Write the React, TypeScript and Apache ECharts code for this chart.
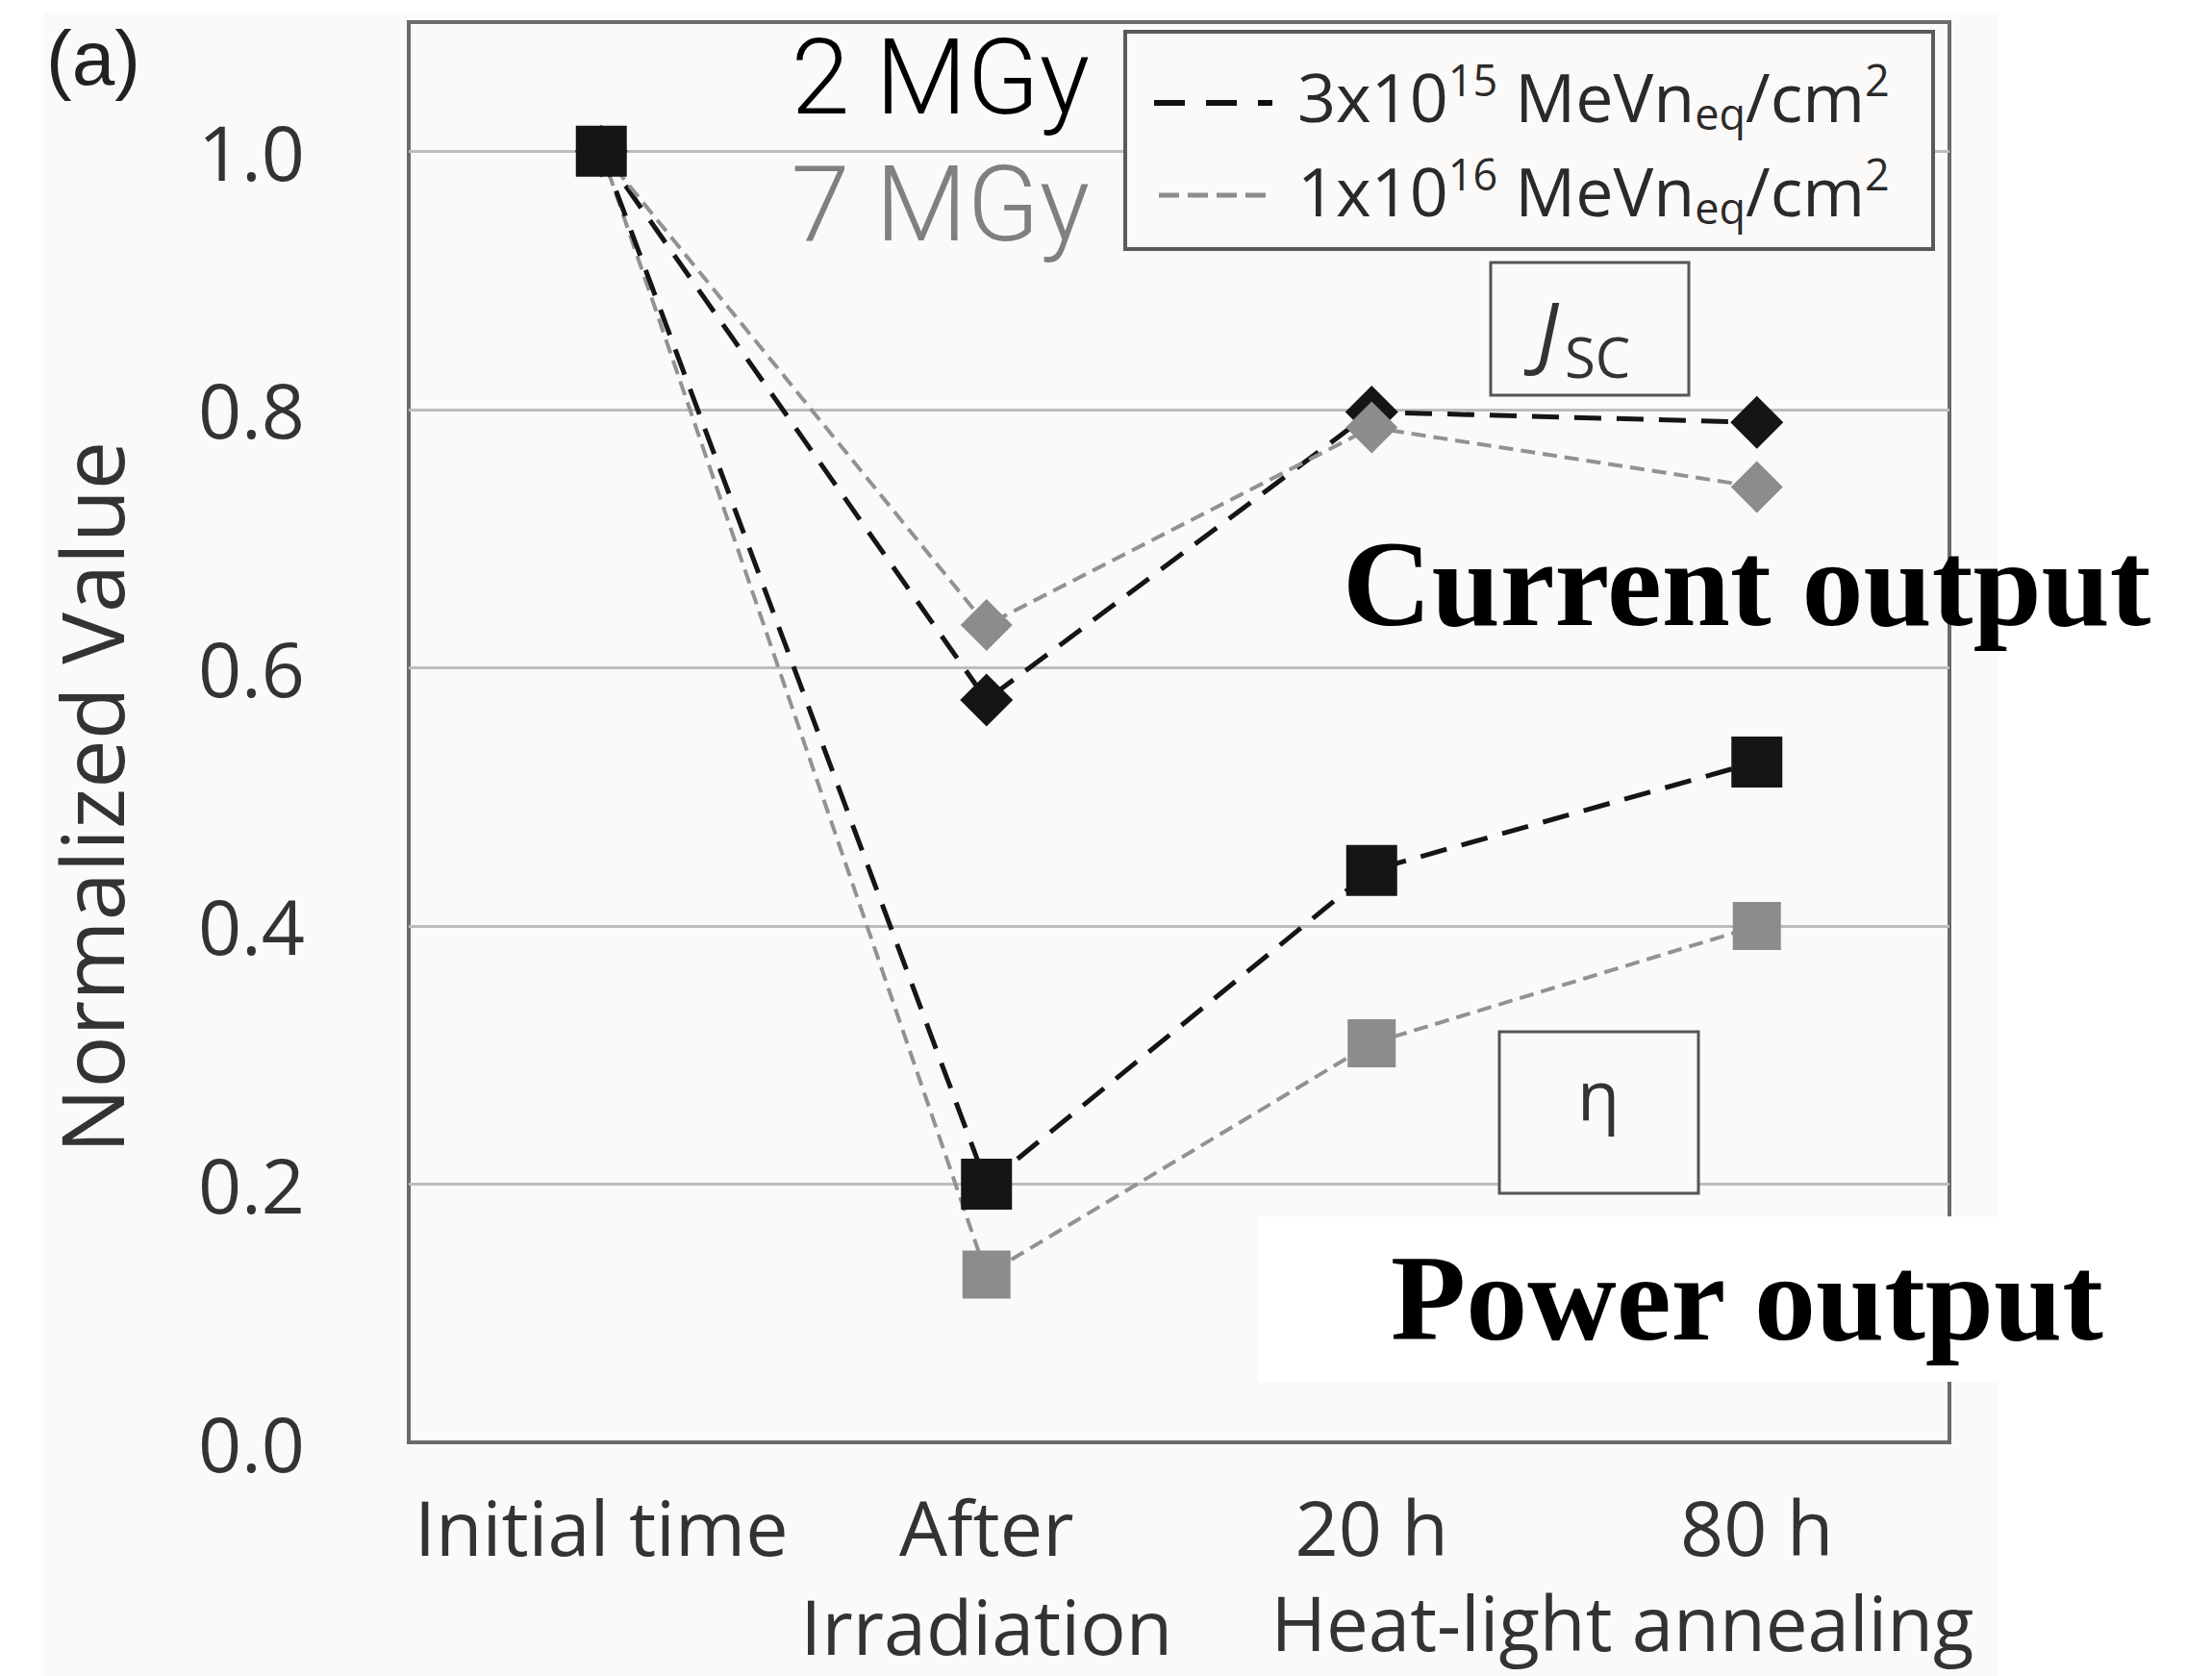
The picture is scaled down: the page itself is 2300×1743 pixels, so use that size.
import React, { useEffect, useRef } from "react";
import * as echarts from "echarts";

// ---- data ----
const categories = ["Initial time", "After\nIrradiation", "20 h", "80 h"];
const jsc3e15 = [1.0, 0.575, 0.798, 0.79];
const jsc1e16 = [1.0, 0.633, 0.786, 0.74];
const eta1e16 = [1.0, 0.13, 0.309, 0.4];
const eta3e15 = [1.0, 0.2, 0.443, 0.527];
const yMin = 0;
const yMax = 1.1;
const yStep = 0.2;
const legendLabels = [
  "3x10{sup|15} MeVn{sub|eq}/cm{sup|2}",
  "1x10{sup|16} MeVn{sub|eq}/cm{sup|2}",
];
const doseLabels = ["2 MGy", "7 MGy"];

const BLACK = "#151515";
const GRAY = "#8c8c8c";
const BG = "#fcf9f9";
const TXT = "#333333";
const SANS = "Open Sans";

const blackLine = { color: BLACK, width: 5, type: [28, 16] as number[] };
const grayLine = { color: "#929292", width: 4, type: [15, 8] as number[] };

function txt(x: number, y: number, text: string, extra: any = {}, z = 12, rotation = 0) {
  const align = extra.align || "left";
  return {
    type: "text",
    x,
    y,
    z,
    rotation,
    silent: true,
    style: {
      text,
      fill: extra.fill || TXT,
      fontSize: extra.fontSize || 70,
      fontFamily: extra.fontFamily || SANS,
      fontWeight: extra.fontWeight || "normal",
      fontStyle: extra.fontStyle || "normal",
      textAlign: align,
      align,
      textVerticalAlign: "middle",
      verticalAlign: "middle",
      ...(extra.rich ? { rich: extra.rich, lineHeight: extra.lineHeight } : {}),
    },
  };
}

const legendRich = {
  sup: { fontSize: 45, lineHeight: 45, verticalAlign: "top", fontFamily: SANS, fill: "#2a2a2a", color: "#2a2a2a" },
  sub: { fontSize: 45, lineHeight: 45, verticalAlign: "bottom", fontFamily: SANS, fill: "#2a2a2a", color: "#2a2a2a" },
};

const graphics: any[] = [
  // off-white figure background
  { type: "rect", z: -10, silent: true, shape: { x: 45, y: 13, width: 2033, height: 1730 }, style: { fill: BG } },
  // panel tag
  txt(97, 60, "(a)", { fontSize: 80, fontFamily: "Liberation Sans", fill: "#222", align: "center" }),
  // dose labels
  txt(1133, 80, doseLabels[0], { fontSize: 110, fontFamily: "Roboto", fontWeight: 300, fill: "#000", align: "right" }),
  txt(1133, 212, doseLabels[1], { fontSize: 110, fontFamily: "Roboto", fontWeight: 300, fill: "#808080", align: "right" }),
  // legend box
  { type: "rect", z: 6, silent: true, shape: { x: 1170, y: 33, width: 840, height: 226 }, style: { fill: BG, stroke: "#5a5a5a", lineWidth: 4 } },
  { type: "line", z: 7, silent: true, shape: { x1: 1200, y1: 107, x2: 1323, y2: 107 }, style: { stroke: "#111", lineWidth: 6, lineDash: [32, 22] } },
  { type: "line", z: 7, silent: true, shape: { x1: 1205, y1: 203, x2: 1318, y2: 203 }, style: { stroke: GRAY, lineWidth: 5, lineDash: [21, 9] } },
  txt(1349, 100, legendLabels[0], { fontSize: 70, fill: "#2a2a2a", rich: legendRich, lineHeight: 80 }, 8),
  txt(1349, 198, legendLabels[1], { fontSize: 70, fill: "#2a2a2a", rich: legendRich, lineHeight: 80 }, 8),
  // Jsc box
  { type: "rect", z: 6, silent: true, shape: { x: 1550, y: 273, width: 206, height: 138 }, style: { fill: BG, stroke: "#555", lineWidth: 3 } },
  txt(1598, 342, "J", { fontSize: 84, fontStyle: "italic" }, 8),
  txt(1627, 370, "SC", { fontSize: 58 }, 8),
  // eta box
  { type: "rect", z: 6, silent: true, shape: { x: 1559, y: 1073, width: 207, height: 168 }, style: { fill: BG, stroke: "#555", lineWidth: 3 } },
  txt(1662, 1137, "η", { fontSize: 72, align: "center" }, 8),
  // big annotations
  txt(1396, 607, "Current output", { fontSize: 128, fontFamily: "Liberation Serif", fontWeight: "bold", fill: "#000" }, 12),
  { type: "rect", z: 10, silent: true, shape: { x: 1308, y: 1265, width: 770, height: 172 }, style: { fill: "#ffffff" } },
  txt(1446, 1350, "Power output", { fontSize: 128, fontFamily: "Liberation Serif", fontWeight: "bold", fill: "#000" }, 12),
  // axis texts
  txt(1687, 1687, "Heat-light annealing", { fontSize: 78, align: "center" }, 12),
  txt(94, 829, "Normalized Value", { fontSize: 90, align: "center" }, 12, Math.PI / 2),
];

const option: any = {
  animation: false,
  backgroundColor: "transparent",
  grid: {
    left: 425,
    right: 273,
    top: 23,
    bottom: 243,
    outerBoundsMode: "none",
    containLabel: false,
    show: true,
    borderColor: "#6b6b6b",
    borderWidth: 4,
    backgroundColor: "transparent",
  },
  xAxis: {
    type: "category",
    data: categories,
    boundaryGap: true,
    axisLine: { show: false },
    axisTick: { show: false },
    splitLine: { show: false },
    axisLabel: {
      interval: 0,
      fontSize: 79,
      fontFamily: SANS,
      color: TXT,
      margin: 36,
      lineHeight: 103,
    },
  },
  yAxis: {
    type: "value",
    min: yMin,
    max: yMax,
    interval: yStep,
    axisLine: { show: false },
    axisTick: { show: false },
    axisLabel: {
      fontSize: 79,
      fontFamily: SANS,
      color: TXT,
      margin: 108,
      showMaxLabel: false,
      formatter: (v: number) => (Math.abs(v - yMax) < 1e-9 ? "" : v.toFixed(1)),
    },
    splitLine: {
      show: true,
      showMinLine: false,
      showMaxLine: false,
      lineStyle: { color: "#bdbdbd", width: 3 },
    },
  },
  series: [
    {
      name: "Jsc 3x10^15",
      type: "line",
      data: jsc3e15,
      symbol: "diamond",
      symbolSize: 55,
      itemStyle: { color: BLACK },
      lineStyle: blackLine,
      z: 2,
      emphasis: { disabled: true },
      silent: true,
    },
    {
      name: "Jsc 1x10^16",
      type: "line",
      data: jsc1e16,
      symbol: "diamond",
      symbolSize: 54,
      itemStyle: { color: GRAY },
      lineStyle: grayLine,
      z: 3,
      emphasis: { disabled: true },
      silent: true,
    },
    {
      name: "eta 1x10^16",
      type: "line",
      data: eta1e16,
      symbol: "rect",
      symbolSize: 50,
      itemStyle: { color: GRAY },
      lineStyle: grayLine,
      z: 4,
      emphasis: { disabled: true },
      silent: true,
    },
    {
      name: "eta 3x10^15",
      type: "line",
      data: eta3e15,
      symbol: "rect",
      symbolSize: 53,
      itemStyle: { color: BLACK },
      lineStyle: blackLine,
      z: 5,
      emphasis: { disabled: true },
      silent: true,
    },
  ],
  graphic: { elements: graphics },
};

export default function App() {
  const ref = useRef<HTMLDivElement>(null);
  useEffect(() => {
    document.body.style.margin = "0";
    document.body.style.background = "#ffffff";
    const chart = echarts.init(ref.current as HTMLDivElement, null, { renderer: "svg" });
    chart.setOption(option);
    return () => chart.dispose();
  }, []);
  return (
    <div
      ref={ref}
      style={{ position: "absolute", left: 0, top: 0, width: 2300, height: 1743 }}
    />
  );
}
